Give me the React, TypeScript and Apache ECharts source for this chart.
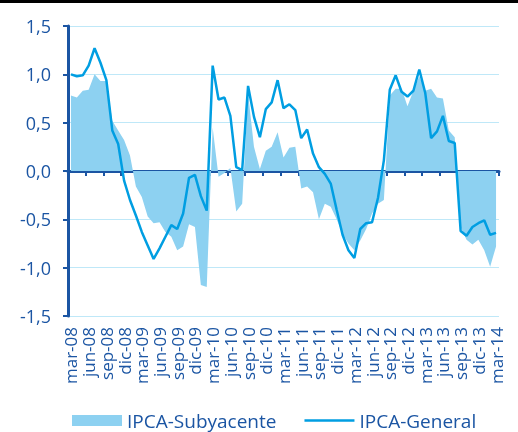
import React, { useEffect, useRef } from "react";
import * as echarts from "echarts";

const MONTHS = ["ene", "feb", "mar", "abr", "may", "jun", "jul", "ago", "sep", "oct", "nov", "dic"];
// mar-08 .. mar-14 (73 months)
const categories: string[] = [];
for (let k = 0; k < 73; k++) {
  const m = (2 + k) % 12;
  const y = 8 + Math.floor((2 + k) / 12);
  categories.push(MONTHS[m] + "-" + String(y).padStart(2, "0"));
}

const subyacente = [
  0.78, 0.76, 0.83, 0.84, 1.0, 0.93, 0.93, 0.52, 0.42, 0.32, 0.16, -0.16,
  -0.27, -0.47, -0.54, -0.53, -0.63, -0.68, -0.82, -0.78, -0.55, -0.58, -1.18, -1.2,
  0.45, -0.06, -0.02, 0.03, -0.42, -0.34, 0.8, 0.25, 0.02, 0.21, 0.25, 0.4,
  0.14, 0.24, 0.25, -0.18, -0.16, -0.22, -0.5, -0.34, -0.37, -0.5, -0.65, -0.75,
  -0.82, -0.72, -0.6, -0.44, -0.34, -0.3, 0.78, 0.85, 0.85, 0.67, 0.83, 0.98,
  0.83, 0.85, 0.76, 0.75, 0.42, 0.35, -0.58, -0.71, -0.76, -0.71, -0.82, -0.99,
  -0.78,
];

const general = [
  1.0, 0.98, 0.99, 1.09, 1.27, 1.12, 0.94, 0.42, 0.28, -0.1, -0.3, -0.46,
  -0.63, -0.77, -0.91, -0.8, -0.68, -0.56, -0.6, -0.44, -0.07, -0.04, -0.26, -0.41,
  1.09, 0.74, 0.76, 0.57, 0.04, 0.01, 0.88, 0.56, 0.35, 0.64, 0.71, 0.94,
  0.65, 0.69, 0.63, 0.34, 0.43, 0.18, 0.04, -0.03, -0.13, -0.4, -0.66, -0.82,
  -0.9, -0.6, -0.54, -0.53, -0.28, 0.11, 0.84, 0.99, 0.82, 0.77, 0.83, 1.05,
  0.81, 0.34, 0.41, 0.57, 0.31, 0.29, -0.62, -0.67, -0.58, -0.54, -0.51, -0.66,
  -0.64,
];

const DARK = "#1b55a3";
const AREA = "#8dd1f1";
const LINE = "#009ee2";
const GRID = "#bfe8f8";
const FONT = "Open Sans";

export default function App() {
  const ref = useRef<HTMLDivElement>(null);
  useEffect(() => {
    if (!ref.current) return;
    const chart = echarts.init(ref.current, undefined, { renderer: "svg" });
    chart.setOption({
      animation: false,
      textStyle: { fontFamily: FONT },
      graphic: [
        { type: "rect", shape: { x: 0, y: 0, width: 518, height: 3 }, style: { fill: "#000" } },
      ],
      grid: { left: 68, right: 19, top: 26, bottom: 116, containLabel: false },
      legend: {
        left: 72,
        top: 411,
        padding: 0,
        itemWidth: 50,
        itemHeight: 11,
        itemGap: 28,
        textStyle: { color: DARK, fontSize: 19, lineHeight: 18, fontFamily: FONT },
        data: [
          { name: "IPCA-Subyacente", icon: "rect" },
          { name: "IPCA-General", icon: "path://M0,0H50V2.5H0Z" },
        ],
      },
      xAxis: [
        {
          type: "category",
          data: categories,
          position: "bottom",
          boundaryGap: true,
          axisLine: { show: false, onZero: false },
          axisTick: { show: false },
          axisLabel: {
            interval: 2,
            rotate: 90,
            margin: 11,
            fontSize: 17,
            color: DARK,
            fontFamily: FONT,
            showMinLabel: true,
            showMaxLabel: true,
            hideOverlap: false,
          },
        },
        {
          type: "category",
          data: categories,
          position: "top",
          boundaryGap: true,
          axisLine: { show: true, onZero: true, lineStyle: { color: DARK, width: 3 } },
          axisTick: { show: true, interval: 2, inside: true, length: 5, lineStyle: { color: DARK, width: 2 } },
          axisLabel: { show: false },
        },
      ],
      yAxis: {
        type: "value",
        min: -1.5,
        max: 1.5,
        interval: 0.5,
        axisLine: { show: true, lineStyle: { color: DARK, width: 3 } },
        axisTick: { show: true, length: 5, lineStyle: { color: DARK, width: 2 } },
        splitLine: { show: true, lineStyle: { color: GRID, width: 1 } },
        axisLabel: {
          color: DARK,
          fontSize: 18,
          margin: 17,
          fontFamily: FONT,
          formatter: (v: number) => v.toFixed(1).replace(".", ","),
        },
      },
      series: [
        {
          name: "IPCA-Subyacente",
          type: "line",
          xAxisIndex: 0,
          data: subyacente,
          symbol: "none",
          itemStyle: { color: AREA },
          lineStyle: { width: 0, color: AREA },
          areaStyle: { color: AREA, opacity: 1 },
          z: 1,
        },
        {
          name: "IPCA-General",
          type: "line",
          xAxisIndex: 0,
          data: general,
          symbol: "none",
          itemStyle: { color: LINE },
          lineStyle: { width: 2.5, color: LINE },
          z: 3,
        },
      ],
    });
    return () => chart.dispose();
  }, []);
  return (
    <div
      ref={ref}
      style={{ position: "fixed", left: 0, top: 0, width: 518, height: 432 }}
    />
  );
}
